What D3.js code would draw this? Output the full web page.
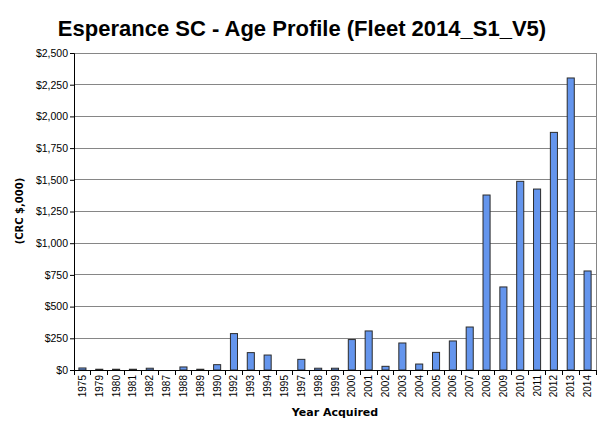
<!DOCTYPE html>
<html><head><meta charset="utf-8">
<script src="https://cdn.jsdelivr.net/npm/d3@7"></script>
<style>body{margin:0;background:#fff}svg{display:block}</style>
</head><body>
<svg id="c" width="603" height="431"></svg>
<script>
const years = ["1975","1979","1980","1981","1982","1987","1988","1989","1990","1992","1993","1994","1995","1997","1998","1999","2000","2001","2002","2003","2004","2005","2006","2007","2008","2009","2010","2011","2012","2013","2014"];
const values = [16,6,6,6,14,0,24,6,42,287,137,118,0,84,14,14,240,308,29,213,47,139,229,339,1380,655,1488,1427,1874,2303,781];
const yTicks = [0,250,500,750,1000,1250,1500,1750,2000,2250,2500];
const title = "Esperance SC - Age Profile (Fleet 2014_S1_V5)";
const xTitle = "Year Acquired";
const yTitle = "(CRC $,000)";

const svg = d3.select("#c");
const m = {l:74, r:596, t:53, b:370};
const x = d3.scaleBand().domain(years).range([m.l, m.r]).paddingInner(0.58).paddingOuter(0.29);
const y = d3.scaleLinear().domain([0,2500]).range([m.b, m.t]);
const fmt = v => "$" + d3.format(",")(v);

// gridlines
svg.append("g").selectAll("line").data(yTicks.slice(1)).join("line")
  .attr("x1", m.l).attr("x2", m.r).attr("y1", d=>y(d)).attr("y2", d=>y(d))
  .attr("stroke","#868686").attr("stroke-width",1).attr("shape-rendering","crispEdges");
// right border
svg.append("line").attr("x1",m.r).attr("x2",m.r).attr("y1",m.t).attr("y2",m.b)
  .attr("stroke","#868686").attr("shape-rendering","crispEdges");

// bars
svg.append("g").selectAll("rect").data(values).join("rect")
  .attr("x",(d,i)=>x(years[i])).attr("width",x.bandwidth())
  .attr("y",d=>y(d)).attr("height",d=>m.b-y(d))
  .attr("fill","#6495ED").attr("stroke","#2b2b2b").attr("stroke-width",1);

// y axis
const ya = svg.append("g").attr("transform",`translate(${m.l},0)`)
  .call(d3.axisLeft(y).tickValues(yTicks).tickFormat(fmt).tickSize(4).tickPadding(2));
ya.select(".domain").attr("stroke","#000");
ya.selectAll("line").attr("stroke","#000");
ya.selectAll("text").attr("font-family","'Liberation Sans', Arial, sans-serif").attr("font-size","10.5px").attr("fill","#000");

// x axis
const xa = svg.append("g").attr("transform",`translate(0,${m.b})`)
  .call(d3.axisBottom(x).tickSize(0).tickSizeOuter(0));
xa.select(".domain").attr("stroke","#000");
xa.selectAll("text").attr("font-family","'Liberation Sans', Arial, sans-serif").attr("font-size","10px").attr("fill","#000")
  .attr("transform","rotate(-90)").attr("text-anchor","end").attr("dy","0.35em").attr("x",-5).attr("y",0);
// tick marks between categories
svg.append("g").selectAll("line").data(d3.range(years.length+1)).join("line")
  .attr("x1",i=>m.l+i*(m.r-m.l)/years.length).attr("x2",i=>m.l+i*(m.r-m.l)/years.length)
  .attr("y1",m.b).attr("y2",m.b+5).attr("stroke","#000").attr("shape-rendering","crispEdges");

// titles
svg.append("text").attr("x",302).attr("y",36).attr("text-anchor","middle")
  .attr("font-family","'Liberation Sans', Arial, sans-serif").attr("font-weight","bold").attr("font-size","22px")
  .text(title);
svg.append("text").attr("x",335).attr("y",416).attr("text-anchor","middle")
  .attr("font-family","'DejaVu Sans', Verdana, sans-serif").attr("font-weight","bold").attr("font-size","11px").text(xTitle);
svg.append("text").attr("transform","translate(23,211) rotate(-90)").attr("text-anchor","middle")
  .attr("font-family","'DejaVu Sans', Verdana, sans-serif").attr("font-weight","bold").attr("font-size","10px").text(yTitle);
</script>
</body></html>
